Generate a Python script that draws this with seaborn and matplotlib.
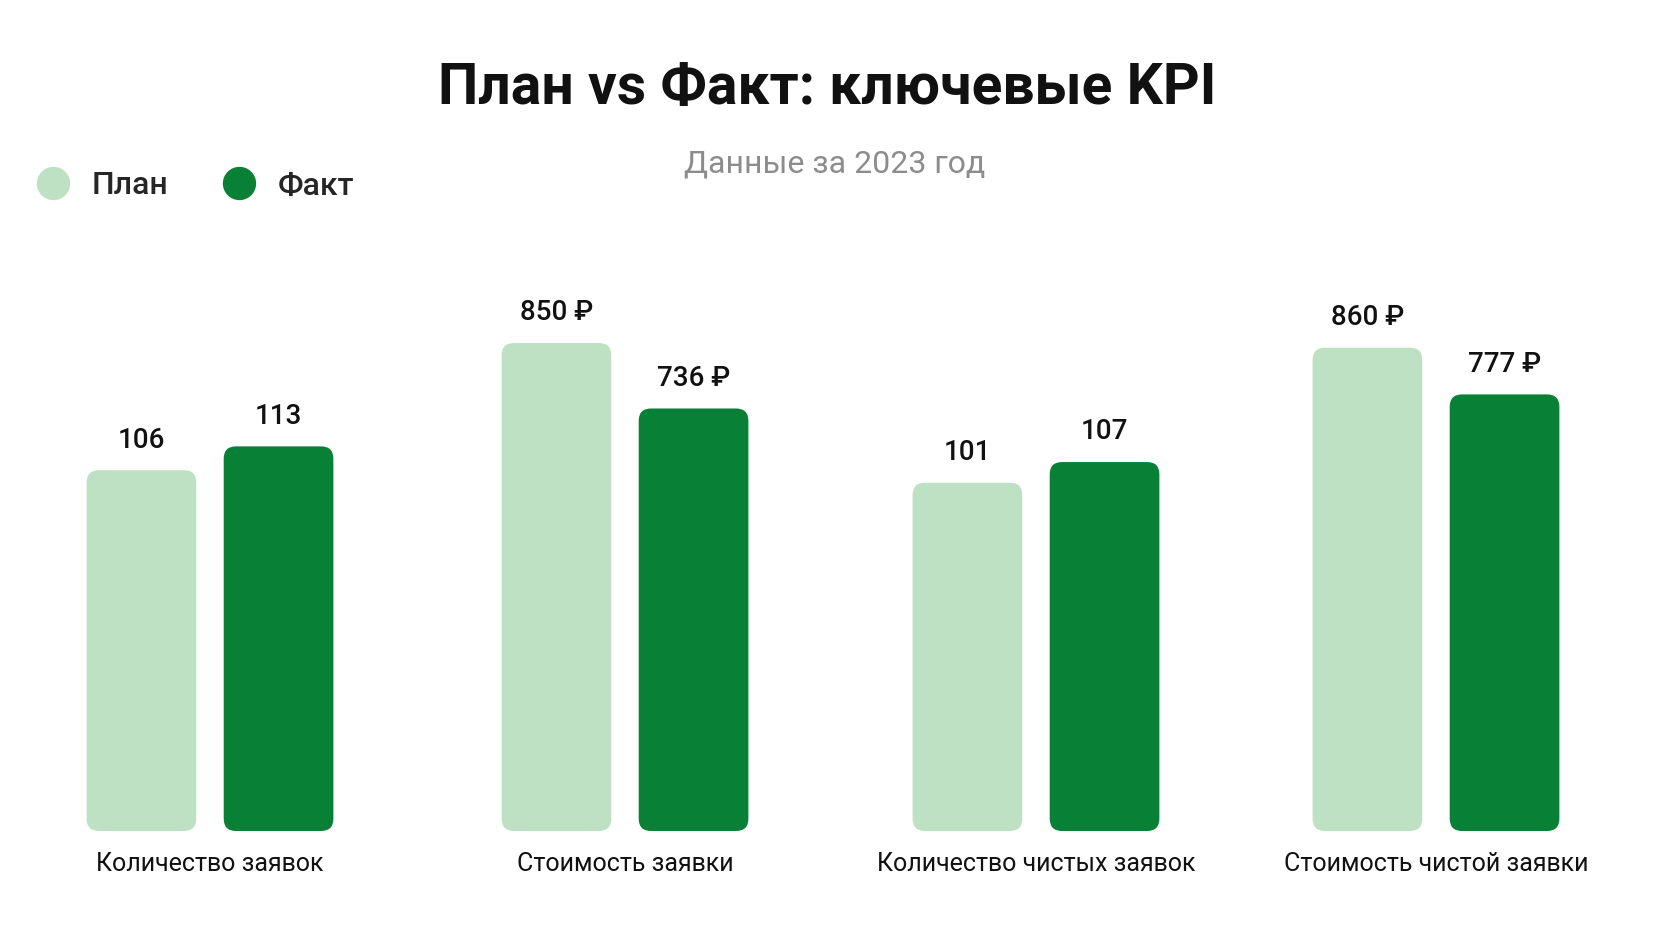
import matplotlib
matplotlib.use("Agg")
import matplotlib.pyplot as plt
import seaborn as sns
from matplotlib.patches import FancyBboxPatch
from matplotlib.lines import Line2D

# данные KPI
categories = ["Количество заявок", "Стоимость заявки",
              "Количество чистых заявок", "Стоимость чистой заявки"]
series = ["План", "Факт"]
plan_values = [106, 850, 101, 860]
fact_values = [113, 736, 107, 777]
is_money = [False, True, False, True]

PLAN_COLOR = "#bee1c4"
FACT_COLOR = "#088036"

sns.set_theme(style="white")
plt.rcParams["font.family"] = ["Roboto", "DejaVu Sans"]

W, H = 1672, 940
fig = plt.figure(figsize=(W / 100, H / 100), dpi=100)
fig.patch.set_facecolor("white")

# геометрия панелей (в пикселях)
centers_px = [210, 625, 1036, 1436]
y_tops = [156, 925, 154, 945]
ax_w_px, ax_bottom_px, ax_top_px = 340, 831, 300
x_lo, x_hi = -0.74, 1.74

for i, cat in enumerate(categories):
    left = (centers_px[i] - ax_w_px / 2) / W
    ax = fig.add_axes([left, (H - ax_bottom_px) / H, ax_w_px / W,
                       (ax_bottom_px - ax_top_px) / H])
    sns.barplot(x=series, y=[plan_values[i], fact_values[i]], hue=series,
                palette=[PLAN_COLOR, FACT_COLOR], width=0.8, saturation=1,
                legend=False, ax=ax)
    ax.set_xlim(x_lo, x_hi)
    ax.set_ylim(0, y_tops[i])

    fmt = "{:.0f} ₽" if is_money[i] else "{:.0f}"
    for cont in ax.containers:
        ax.bar_label(cont, fmt=fmt, padding=12, fontsize=20,
                     fontweight="medium", color="#111111")

    # скругляем углы столбцов
    aspect = (y_tops[i] / (ax_bottom_px - ax_top_px)) / ((x_hi - x_lo) / ax_w_px)
    for p in list(ax.patches):
        x, y0 = p.get_x(), p.get_y()
        w, h = p.get_width(), p.get_height()
        fc = p.get_facecolor()
        p.remove()
        ax.add_patch(FancyBboxPatch((x, y0), w, h,
                                    boxstyle="round,pad=0,rounding_size=0.09",
                                    mutation_aspect=aspect, fc=fc, ec="none"))

    ax.set_xticks([0.5])
    ax.set_xticklabels([cat], fontsize=18, color="#111111")
    ax.tick_params(axis="x", length=0, pad=15)
    ax.set_yticks([])
    ax.set_xlabel("")
    ax.set_ylabel("")
    sns.despine(ax=ax, left=True, bottom=True)

fig.text(827 / W, 1 - 104 / H, "План vs Факт: ключевые KPI", ha="center",
         va="baseline", fontsize=41, fontweight="bold", color="#111111")
fig.text(835 / W, 1 - 173 / H, "Данные за 2023 год", ha="center",
         va="baseline", fontsize=23, color="#8c8c8c")

handles = [Line2D([], [], ls="", marker="o", ms=24, mec="none", mfc=c)
           for c in (PLAN_COLOR, FACT_COLOR)]
fig.legend(handles, series, loc="center left", bbox_to_anchor=(37 / W, 1 - 186 / H),
           ncol=2, frameon=False, handlelength=1.0,
           prop={"size": 23, "weight": "medium"},
           handletextpad=0.72, columnspacing=1.7, borderpad=0, borderaxespad=0)

fig.savefig("out.png", dpi=100, facecolor="white")
